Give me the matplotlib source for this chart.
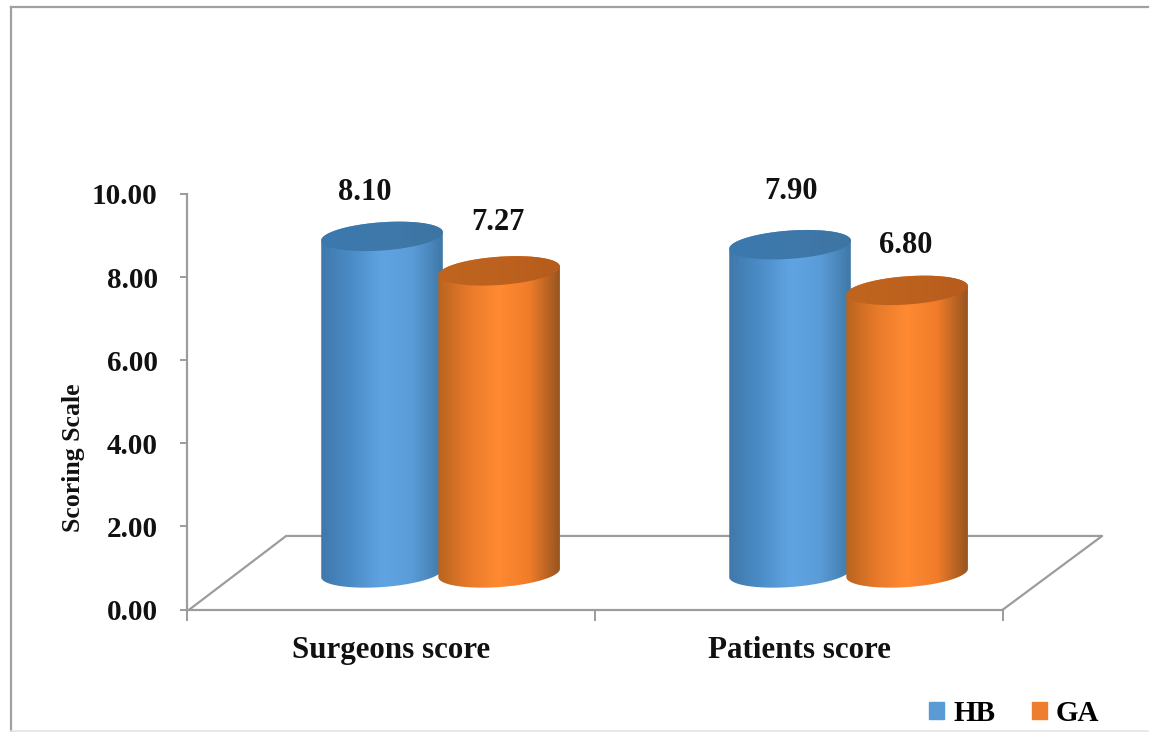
import numpy as np
import matplotlib
matplotlib.use("Agg")
import matplotlib.pyplot as plt
from matplotlib.colors import LinearSegmentedColormap
from matplotlib.lines import Line2D
from matplotlib.patches import Patch, Polygon

categories = ["Surgeons score", "Patients score"]
series_names = ["HB", "GA"]
hb_values = [8.10, 7.90]
ga_values = [7.27, 6.80]
y_ticks = [0, 2, 4, 6, 8, 10]

W, H = 1151, 732
plt.rcParams['font.family'] = ['Liberation Serif', 'DejaVu Serif']
plt.rcParams['font.weight'] = 'bold'

GRAY = "#9c9c9c"

# cylinder look: body shading runs left to right, the lid is darker
body_hb = LinearSegmentedColormap.from_list("body_hb", ["#3f78ab", "#4b8cc6", "#5fa4e2", "#5a9cd8", "#3f78a8"])
body_ga = LinearSegmentedColormap.from_list("body_ga", ["#b8641f", "#e87a2a", "#ff8a32", "#f07c2a", "#96551f"])
lid_hb = LinearSegmentedColormap.from_list("lid_hb", ["#3a78ae", "#3f79ab", "#3d74a2"])
lid_ga = LinearSegmentedColormap.from_list("lid_ga", ["#c0651f", "#bd621e", "#b65c1c"])

fig = plt.figure(figsize=(W / 100, H / 100), dpi=100)
ax = fig.add_axes([187 / W, 1 - 609.5 / H, 816 / W, 415.5 / H])
ax.set_xlim(0, 2)
ax.set_ylim(0, 10)

# floor of the 3d plot, pushed back from the axis
depth_x, depth_y = 0.243, 1.77
ax.plot([0.006, depth_x, 2 + depth_x, 2], [0, depth_y, depth_y, 0], color=GRAY, lw=1.6,
        clip_on=False, zorder=1)

half_w = 0.149
half_h = 0.34
tilt = 0.10
floor_y = 0.88


def ellipse(cx, cy, t):
    return cx + half_w * np.cos(t), cy + half_h * np.sin(t) + tilt * np.cos(t)


def shaded(cmap, pts, cx, cy_low, cy_high, z):
    # gradient image cut down to the outline
    grad = np.linspace(0, 1, 256).reshape(1, -1)
    im = ax.imshow(grad, cmap=cmap, aspect="auto", zorder=z, interpolation="bilinear",
                   extent=[cx - half_w, cx + half_w, cy_low, cy_high], origin="lower")
    outline = Polygon(pts, closed=True, transform=ax.transData, fc="none", ec="none")
    ax.add_patch(outline)
    im.set_clip_path(outline)


def cylinder(cx, value, cmap_body, cmap_lid, z):
    top = floor_y + value
    t_low = np.linspace(np.pi, 2 * np.pi, 80)
    t_high = np.linspace(0, np.pi, 80)
    bx, by = ellipse(cx, floor_y, t_low)
    tx, ty = ellipse(cx, top, t_high)
    pts = np.column_stack([np.r_[bx, tx], np.r_[by, ty]])
    shaded(cmap_body, pts, cx, floor_y - 1, top + 1, z)
    t = np.linspace(0, 2 * np.pi, 160)
    lx, ly = ellipse(cx, top, t)
    shaded(cmap_lid, np.column_stack([lx, ly]), cx, top - 1, top + 1, z + 0.5)


x_pos = np.arange(len(categories))
hb_x = x_pos + 0.478
ga_x = x_pos + 0.765

for i in range(len(categories)):
    cylinder(hb_x[i], hb_values[i], body_hb, lid_hb, 2 + i)
    cylinder(ga_x[i], ga_values[i], body_ga, lid_ga, 2.7 + i)

ax.set_xlim(0, 2)
ax.set_ylim(0, 10)

# value labels sit a little off each cylinder
hb_label_dx = [-0.043, 0.003]
hb_label_dy = [1.05, 1.27]
ga_label_dx = [-0.003, -0.003]
ga_label_dy = [1.17, 1.07]
for i in range(len(categories)):
    ax.text(hb_x[i] + hb_label_dx[i], floor_y + hb_values[i] + hb_label_dy[i], "%.2f" % hb_values[i],
            ha="center", va="center", fontsize=22, color="#111111", zorder=10, clip_on=False)
    ax.text(ga_x[i] + ga_label_dx[i], floor_y + ga_values[i] + ga_label_dy[i], "%.2f" % ga_values[i],
            ha="center", va="center", fontsize=22, color="#111111", zorder=10, clip_on=False)

for side in ["top", "right"]:
    ax.spines[side].set_visible(False)
for side in ["left", "bottom"]:
    ax.spines[side].set_color(GRAY)
    ax.spines[side].set_linewidth(1.6)

ax.set_yticks(y_ticks)
ax.set_yticklabels(["%.2f" % v for v in y_ticks], fontsize=21, color="#111111")
ax.tick_params(axis="y", length=5, width=1.4, color=GRAY, pad=16)

ax.set_xticks([0, 1, 2])
ax.set_xticklabels([])
ax.set_xticks(x_pos + 0.5, minor=True)
ax.set_xticklabels(categories, minor=True, fontsize=22.3, color="#111111")
ax.tick_params(axis="x", which="major", length=8, width=1.4, color=GRAY)
ax.tick_params(axis="x", which="minor", length=0, pad=19)

ax.set_ylabel("Scoring Scale", fontsize=18.5, fontweight="bold", color="#111111")
ax.yaxis.set_label_coords((85 - 187) / 816, (609.5 - 458) / 415.5)

handles = [Patch(color="#5b9bd5"), Patch(color="#ed7d31")]
fig.legend(handles, series_names, loc="lower right", bbox_to_anchor=(1099 / W, 1 - 727 / H), ncol=2,
           frameon=False, fontsize=21, handlelength=0.52, handleheight=0.52, handletextpad=0.3,
           columnspacing=1.25, borderpad=0, borderaxespad=0)

# outer frame of the chart area
fig.add_artist(Line2D([11 / W, 11 / W], [0, 1 - 7 / H], color="#a0a0a0", lw=1.6))
fig.add_artist(Line2D([11 / W, 1148 / W], [1 - 7 / H, 1 - 7 / H], color="#a0a0a0", lw=1.6))
fig.add_artist(Line2D([11 / W, 1148 / W], [1 - 731 / H, 1 - 731 / H], color="#e4e4e4", lw=1.2))

fig.savefig("out.png", dpi=100)
